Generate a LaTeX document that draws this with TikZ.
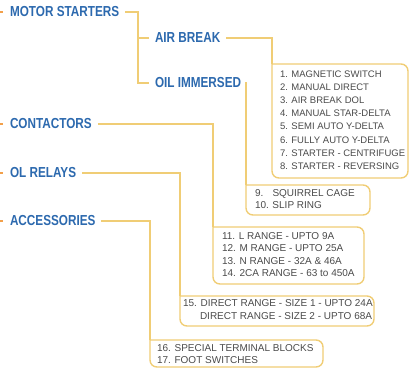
\documentclass[tikz,border=0pt]{standalone}
\usepackage{fontspec}
\setmainfont{Liberation Sans}
\newfontfamily\headfont{Liberation Sans}[FakeStretch=0.81]
\newfontfamily\itemfont{Liberation Sans}
\definecolor{hblue}{HTML}{2C69AE}
\definecolor{lgold}{HTML}{F0CD75}
\definecolor{itxt}{HTML}{4A4A4A}
\definecolor{orng}{HTML}{F2A04A}
\begin{document}
\begin{tikzpicture}[x=1pt,y=-1pt,
  head/.style={anchor=west,inner xsep=6pt,inner ysep=0pt,outer sep=0pt,
    font=\headfont\bfseries\fontsize{14.5}{15}\selectfont,text=hblue},
  conn/.style={draw=lgold,line width=1.4pt},
  boxarea/.style={anchor=north west,inner sep=0pt,outer sep=0pt},
  items/.style={anchor=north west,inner sep=0pt,outer sep=0pt,align=left,text=itxt},
  stub/.style={draw=orng,line width=1.3pt}
]
\useasboundingbox (0,0) rectangle (410,368);

% headings
\node[head] (ms) at (4,12) {MOTOR STARTERS};
\node[head] (ab) at (149,38) {AIR BREAK};
\node[head] (oi) at (149,83) {OIL IMMERSED};
\node[head] (ct) at (4,124) {CONTACTORS};
\node[head] (ol) at (4,173) {OL RELAYS};
\node[head] (ac) at (4,221) {ACCESSORIES};

% left stubs
\foreach \n in {ms,ct,ol,ac}{
  \coordinate (s\n) at (0,0 |- \n.west);
  \draw[stub] (s\n) -- ([xshift=3pt]s\n);
}

% box areas
\node[boxarea,minimum width=136pt,minimum height=114pt] (b1) at (272,64) {};
\node[boxarea,minimum width=124pt,minimum height=30pt] (b2) at (246,185) {};
\node[boxarea,minimum width=151pt,minimum height=57pt] (b3) at (213,227) {};
\node[boxarea,minimum width=194pt,minimum height=30pt] (b4) at (180,296) {};
\node[boxarea,minimum width=173pt,minimum height=27pt] (b5) at (150,340) {};

\foreach \b in {b1,b2,b3,b4,b5}{
  \draw[conn,rounded corners=7pt] (\b.north west) -- (\b.north east) -- (\b.south east) -- (\b.south west) -- (\b.north west);
}

% connectors
\draw[conn] (ms.east) -| ([xshift=-11pt]oi.west) -- (oi.west);
\draw[conn] (ab.west) -- ([xshift=-11pt]ab.west);
\draw[conn] (ab.east) -| (b1.north west);
\draw[conn] (oi.east) -| (b2.north west);
\draw[conn] (ct.east) -| (b3.north west);
\draw[conn] (ol.east) -| (b4.north west);
\draw[conn] (ac.east) -| (b5.north west);

% box texts
\node[items,font=\itemfont\fontsize{9.5}{13.2}\selectfont] (t1) at (280,70.5) {1. MAGNETIC SWITCH\\2. MANUAL DIRECT\\3. AIR BREAK DOL\\4. MANUAL STAR-DELTA\\5. SEMI AUTO Y-DELTA\\6. FULLY AUTO Y-DELTA\\7. STARTER - CENTRIFUGE\\8. STARTER - REVERSING};
\node[items,font=\itemfont\fontsize{10}{12}\selectfont] (t2) at (255,189.5) {\makebox[17.5pt][l]{9.}SQUIRREL CAGE\\\makebox[17.5pt][l]{10.}SLIP RING};
\node[items,font=\itemfont\fontsize{10}{12.3}\selectfont] (t3) at (222,232.5) {11. L RANGE - UPTO 9A\\12. M RANGE - UPTO 25A\\13. N RANGE - 32A \& 46A\\14. 2CA RANGE - 63 to 450A};
\node[items,font=\itemfont\fontsize{10}{13.5}\selectfont] (t4) at (183,299.5) {15. DIRECT RANGE - SIZE 1 - UPTO 24A\\\makebox[17pt][l]{}DIRECT RANGE - SIZE 2 - UPTO 68A};
\node[items,font=\itemfont\fontsize{10}{12}\selectfont] (t5) at (157,344.5) {16. SPECIAL TERMINAL BLOCKS\\17. FOOT SWITCHES};
\end{tikzpicture}
\end{document}
